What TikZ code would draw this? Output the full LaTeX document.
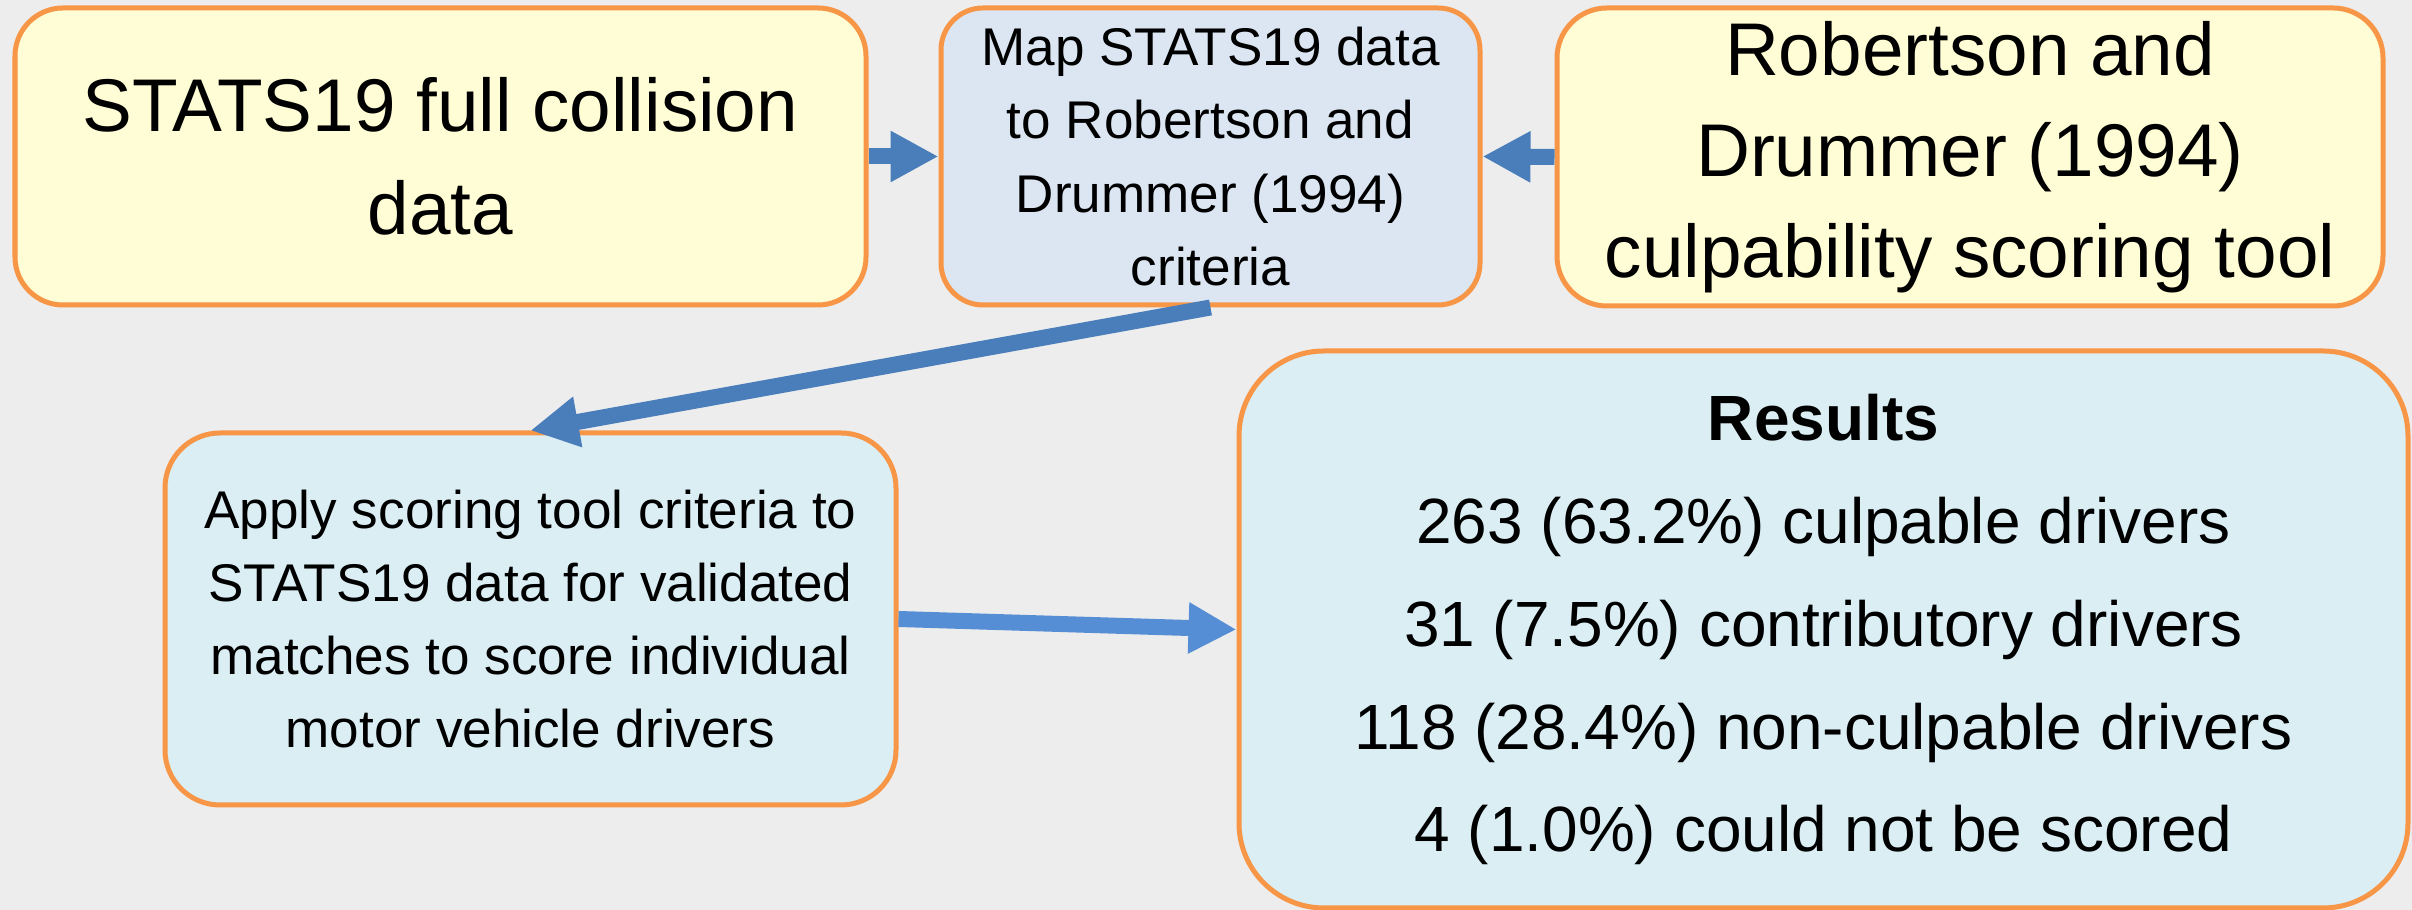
\documentclass[tikz,border=0pt]{standalone}
\usepackage{fontspec}
\setmainfont{Liberation Sans}
\usepackage{xcolor}
\usepackage{tikz}
\usetikzlibrary{arrows.meta}

\definecolor{bgcol}{HTML}{EDEDED}
\definecolor{boxline}{HTML}{F79646}
\definecolor{yellowfill}{HTML}{FFFDD5}
\definecolor{mapfill}{HTML}{DCE6F2}
\definecolor{resfill}{HTML}{DBEEF4}
\definecolor{arrowblue}{HTML}{4A7EBB}
\definecolor{arrowlight}{HTML}{558ED5}

\tikzset{
    box/.style={rectangle, draw=boxline, line width=0.05cm, inner sep=0pt, align=center},
    bigtext/.style={font=\fontsize{21.25}{29.3}\selectfont},
    smalltext/.style={font=\fontsize{15.1}{20.8}\selectfont},
    blockarrow/.style={line width=0.16cm, -{Triangle[length=0.48cm, width=0.48cm]}}
}

\begin{document}
\begin{tikzpicture}
\path[use as bounding box, fill=bgcol] (0,0) rectangle (24.12,9.10);

\node[box, bigtext, fill=yellowfill, rounded corners=0.48cm, minimum width=8.51cm, minimum height=2.97cm] (Data) at (4.405, 7.535) {STATS19 full collision\\data};
\node[box, smalltext, fill=mapfill, rounded corners=0.42cm, minimum width=5.39cm, minimum height=2.97cm] (Map) at (12.105, 7.535) {Map STATS19 data\\to Robertson and\\Drummer (1994)\\criteria};
\node[box, font=\fontsize{21.25}{28.7}\selectfont, fill=yellowfill, rounded corners=0.5cm, minimum width=8.26cm, minimum height=2.98cm] (Tool) at (19.70, 7.53) {Robertson and\\Drummer (1994)\\culpability scoring tool};
\node[box, smalltext, fill=resfill, rounded corners=0.55cm, minimum width=7.31cm, minimum height=3.72cm] (Apply) at (5.305, 2.91) {Apply scoring tool criteria to\\STATS19 data for validated\\matches to score individual\\motor vehicle drivers};
\node[box, font=\fontsize{18.2}{29.3}\selectfont, fill=resfill, rounded corners=0.85cm, minimum width=11.69cm, minimum height=5.57cm] (Res) at (18.235, 2.805) {\textbf{Results}\\263 (63.2\%) culpable drivers\\31 (7.5\%) contributory drivers\\118 (28.4\%) non-culpable drivers\\4 (1.0\%) could not be scored};

\begin{scope}[blockarrow]
    \draw[arrowblue] (Data.east) -- (Map.west);
    \draw[arrowblue] (Tool.west) -- (Map.east);
    \draw[arrowblue] (Map.south) -- (Apply.north);
    \draw[arrowlight] (Apply.east) -- (Res.west);
\end{scope}
\end{tikzpicture}
\end{document}
